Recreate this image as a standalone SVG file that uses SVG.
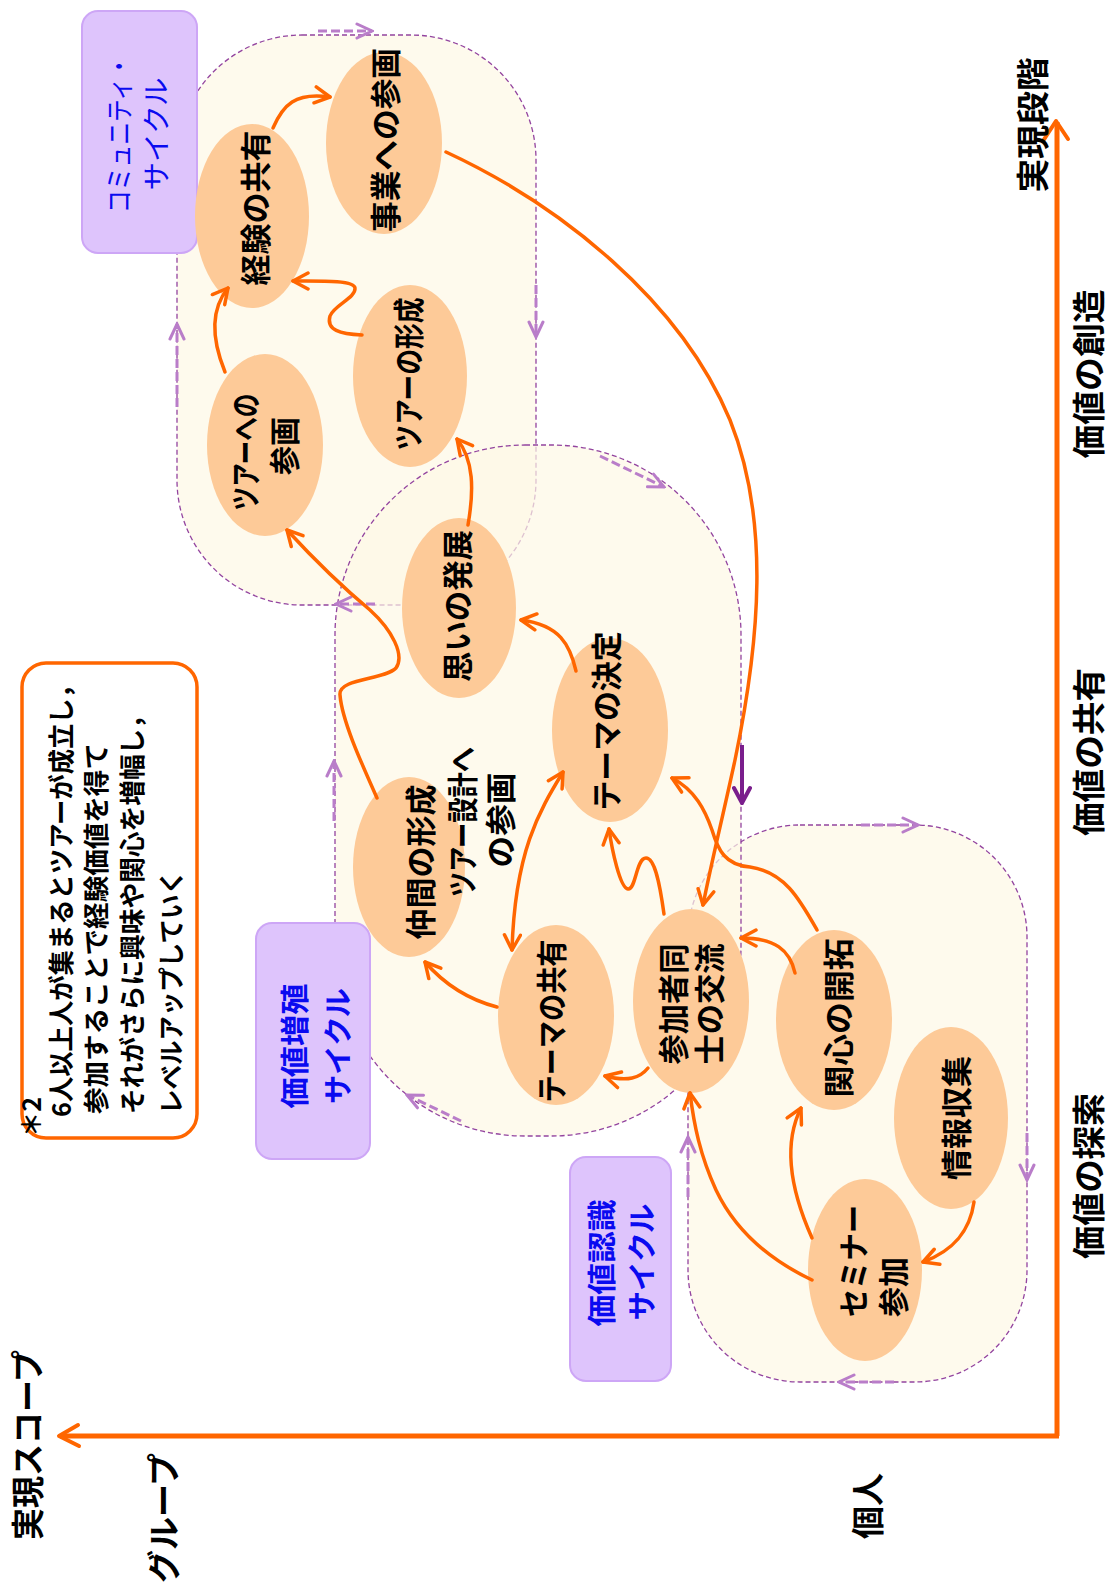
<svg xmlns="http://www.w3.org/2000/svg" width="1112" height="1587" viewBox="0 0 1112 1587">
<defs>
<style>
.t{font-family:"Noto Sans CJK JP","Noto Sans",sans-serif;font-weight:bold;fill:#000}
.n{font-size:31px}
.ax{font-size:33px}
.lb{font-size:29px;fill:#0A0AF0}
.nt{font-family:"Noto Sans CJK JP","Noto Sans",sans-serif;font-size:26px;font-weight:bold;fill:#000}
.node{fill:#FDCA98}
.region{fill:#FEF8E6;fill-opacity:0.7;stroke:#93449F;stroke-width:1.3;stroke-dasharray:5 3}
.cyc{fill:none;stroke:#B97DC9;stroke-width:3;stroke-dasharray:9 4;marker-end:url(#pm)}
.conn{fill:none;stroke:#FF6600;stroke-width:3.5;stroke-linecap:round;marker-end:url(#om)}
.box{fill:#DEC4FC;stroke:#CDA6F6;stroke-width:2}
</style>
<marker id="om" viewBox="0 0 20 20" refX="18" refY="10" markerWidth="20" markerHeight="20" markerUnits="userSpaceOnUse" orient="auto-start-reverse">
<path d="M3,2 L18,10 L3,18" fill="none" stroke="#FF6600" stroke-width="3.5" stroke-linecap="round" stroke-linejoin="round"/>
</marker>
<marker id="pm" viewBox="0 0 20 20" refX="18" refY="10" markerWidth="20" markerHeight="20" markerUnits="userSpaceOnUse" orient="auto">
<path d="M3,3 L18,10 L3,17" fill="none" stroke="#B97DC9" stroke-width="3" stroke-linecap="round"/>
</marker>
<marker id="dm" viewBox="0 0 20 20" refX="18" refY="10" markerWidth="20" markerHeight="20" markerUnits="userSpaceOnUse" orient="auto">
<path d="M3,2 L18,10 L3,18" fill="none" stroke="#7A1E8C" stroke-width="4" stroke-linecap="round"/>
</marker>
</defs>
<rect width="1112" height="1587" fill="#FFFFFF"/>

<!-- cycle regions -->
<g id="regions">
<rect id="region-community" class="region" x="177" y="35" width="359" height="570" rx="125" ry="125"/>
<rect id="region-recognition" class="region" x="688" y="825" width="339" height="557" rx="112" ry="112"/>
<rect id="region-multiplication" class="region" x="335" y="445" width="406" height="691" rx="190" ry="190"/>
</g>

<g id="cycle-arrows">
<path class="cyc" d="M318,31 L372,31"/>
<path class="cyc" d="M536,285 L536,337"/>
<path class="cyc" d="M375,604 L336,604"/>
<path class="cyc" d="M177,407 L177,324"/>
<path class="cyc" d="M600,456 L664,487"/>
<path class="cyc" d="M334,821 L334,761"/>
<path class="cyc" d="M461,1121 L407,1095"/>
<path d="M742,745 L742,803" fill="none" stroke="#7A1E8C" stroke-width="4" marker-end="url(#dm)"/>
<path class="cyc" d="M861,825 L918,825"/>
<path class="cyc" d="M1027,1133 L1027,1180"/>
<path class="cyc" d="M894,1382 L839,1382"/>
<path class="cyc" d="M688,1197 L688,1137"/>
</g>

<!-- axes -->
<g id="axes">
<path d="M1057,1436 L1057,122" fill="none" stroke="#FF6600" stroke-width="5"/>
<path d="M1043,141 L1056,121 L1068,139" fill="none" stroke="#FF6600" stroke-width="4" stroke-linecap="round" stroke-linejoin="round"/>
<path d="M1059,1436 L60,1436" fill="none" stroke="#FF6600" stroke-width="5"/>
<path d="M78,1425 L59,1436 L79,1446" fill="none" stroke="#FF6600" stroke-width="4" stroke-linecap="round" stroke-linejoin="round"/>
<text class="t ax" transform="translate(1031,125) rotate(-90)" text-anchor="middle" dominant-baseline="central" textLength="135" lengthAdjust="spacingAndGlyphs">実現段階</text>
<text class="t ax" transform="translate(1087,374) rotate(-90)" text-anchor="middle" dominant-baseline="central" textLength="169" lengthAdjust="spacingAndGlyphs">価値の創造</text>
<text class="t ax" transform="translate(1087,752) rotate(-90)" text-anchor="middle" dominant-baseline="central" textLength="168" lengthAdjust="spacingAndGlyphs">価値の共有</text>
<text class="t ax" transform="translate(1087,1176) rotate(-90)" text-anchor="middle" dominant-baseline="central" textLength="166" lengthAdjust="spacingAndGlyphs">価値の探索</text>
<text class="t ax" transform="translate(26,1445) rotate(-90)" text-anchor="middle" dominant-baseline="central" textLength="190" lengthAdjust="spacingAndGlyphs">実現スコープ</text>
<text class="t ax" transform="translate(162,1518) rotate(-90)" text-anchor="middle" dominant-baseline="central" textLength="130" lengthAdjust="spacingAndGlyphs">グループ</text>
<text class="t ax" transform="translate(866,1506) rotate(-90)" text-anchor="middle" dominant-baseline="central">個人</text>
</g>

<!-- cycle labels -->
<g id="label-community">
<rect class="box" x="82" y="11" width="115" height="242" rx="16"/>
<text class="t lb" style="font-size:28px;font-weight:normal" transform="translate(118,134) rotate(-90)" text-anchor="middle" dominant-baseline="central" textLength="158" lengthAdjust="spacingAndGlyphs">コミュニティ・</text>
<text class="t lb" style="font-size:28px;font-weight:normal" transform="translate(155,134) rotate(-90)" text-anchor="middle" dominant-baseline="central" textLength="113" lengthAdjust="spacingAndGlyphs">サイクル</text>
</g>
<g id="label-multiplication">
<rect class="box" x="256" y="923" width="114" height="236" rx="16"/>
<text class="t lb" transform="translate(293,1046) rotate(-90)" text-anchor="middle" dominant-baseline="central" textLength="125" lengthAdjust="spacingAndGlyphs">価値増殖</text>
<text class="t lb" transform="translate(336,1046) rotate(-90)" text-anchor="middle" dominant-baseline="central" textLength="116" lengthAdjust="spacingAndGlyphs">サイクル</text>
</g>
<g id="label-recognition">
<rect class="box" x="570" y="1157" width="101" height="224" rx="16"/>
<text class="t lb" transform="translate(600,1263) rotate(-90)" text-anchor="middle" dominant-baseline="central" textLength="127" lengthAdjust="spacingAndGlyphs">価値認識</text>
<text class="t lb" transform="translate(640,1262) rotate(-90)" text-anchor="middle" dominant-baseline="central" textLength="117" lengthAdjust="spacingAndGlyphs">サイクル</text>
</g>

<!-- note -->
<g id="note">
<rect x="22" y="663" width="175" height="475" rx="24" fill="#FFFFFF" stroke="#FF6600" stroke-width="3.5"/>
<text class="nt" transform="translate(29,1137) rotate(-90)" dominant-baseline="central" textLength="40" lengthAdjust="spacingAndGlyphs">＊2</text>
<text class="nt" transform="translate(59,1117) rotate(-90)" dominant-baseline="central" textLength="444" lengthAdjust="spacingAndGlyphs">6人以上人が集まるとツアーが成立し，</text>
<text class="nt" transform="translate(94,1114) rotate(-90)" dominant-baseline="central" textLength="371" lengthAdjust="spacingAndGlyphs">参加することで経験価値を得て</text>
<text class="nt" transform="translate(130,1114) rotate(-90)" dominant-baseline="central" textLength="411" lengthAdjust="spacingAndGlyphs">それがさらに興味や関心を増幅し，</text>
<text class="nt" transform="translate(169,1114) rotate(-90)" dominant-baseline="central" textLength="244" lengthAdjust="spacingAndGlyphs">レベルアップしていく</text>
</g>

<!-- nodes -->
<g id="node-jigyou">
<ellipse class="node" cx="384" cy="143" rx="58" ry="91"/>
<text class="t n" transform="translate(383,140) rotate(-90)" text-anchor="middle" dominant-baseline="central" textLength="184" lengthAdjust="spacingAndGlyphs">事業への参画</text>
</g>
<g id="node-keiken">
<ellipse class="node" cx="252" cy="216" rx="57" ry="92"/>
<text class="t n" transform="translate(253,208) rotate(-90)" text-anchor="middle" dominant-baseline="central" textLength="155" lengthAdjust="spacingAndGlyphs">経験の共有</text>
</g>
<g id="node-tour-keisei">
<ellipse class="node" cx="410" cy="376" rx="57" ry="91"/>
<text class="t n" transform="translate(406,374) rotate(-90)" text-anchor="middle" dominant-baseline="central" textLength="153" lengthAdjust="spacingAndGlyphs">ツアーの形成</text>
</g>
<g id="node-tour-sankaku">
<ellipse class="node" cx="265" cy="445" rx="58" ry="91"/>
<text class="t n" transform="translate(243,452) rotate(-90)" text-anchor="middle" dominant-baseline="central" textLength="117" lengthAdjust="spacingAndGlyphs">ツアーへの</text>
<text class="t n" transform="translate(282,446) rotate(-90)" text-anchor="middle" dominant-baseline="central" textLength="58" lengthAdjust="spacingAndGlyphs">参画</text>
</g>
<g id="node-omoi">
<ellipse class="node" cx="459" cy="608" rx="57" ry="90"/>
<text class="t n" transform="translate(455,606) rotate(-90)" text-anchor="middle" dominant-baseline="central" textLength="152" lengthAdjust="spacingAndGlyphs">思いの発展</text>
</g>
<g id="node-theme-kettei">
<ellipse class="node" cx="610" cy="730" rx="58" ry="92"/>
<text class="t n" transform="translate(604,721) rotate(-90)" text-anchor="middle" dominant-baseline="central" textLength="179" lengthAdjust="spacingAndGlyphs">テーマの決定</text>
</g>
<g id="node-nakama">
<ellipse class="node" cx="409" cy="867" rx="56" ry="90"/>
<text class="t n" transform="translate(418,862) rotate(-90)" text-anchor="middle" dominant-baseline="central" textLength="155" lengthAdjust="spacingAndGlyphs">仲間の形成</text>
</g>
<g id="node-tour-sekkei">
<text class="t n" transform="translate(460,822) rotate(-90)" text-anchor="middle" dominant-baseline="central" textLength="150" lengthAdjust="spacingAndGlyphs">ツアー設計へ</text>
<text class="t n" transform="translate(498,820) rotate(-90)" text-anchor="middle" dominant-baseline="central" textLength="95" lengthAdjust="spacingAndGlyphs">の参画</text>
</g>
<g id="node-theme-kyouyuu">
<ellipse class="node" cx="556" cy="1015" rx="58" ry="90"/>
<text class="t n" transform="translate(549,1021) rotate(-90)" text-anchor="middle" dominant-baseline="central" textLength="163" lengthAdjust="spacingAndGlyphs">テーマの共有</text>
</g>
<g id="node-kouryuu">
<ellipse class="node" cx="691" cy="1001" rx="58" ry="92"/>
<text class="t n" transform="translate(671,1004) rotate(-90)" text-anchor="middle" dominant-baseline="central" textLength="121" lengthAdjust="spacingAndGlyphs">参加者同</text>
<text class="t n" transform="translate(707,1004) rotate(-90)" text-anchor="middle" dominant-baseline="central" textLength="121" lengthAdjust="spacingAndGlyphs">士の交流</text>
</g>
<g id="node-kanshin">
<ellipse class="node" cx="834" cy="1020" rx="58" ry="90"/>
<text class="t n" transform="translate(836,1018) rotate(-90)" text-anchor="middle" dominant-baseline="central" textLength="159" lengthAdjust="spacingAndGlyphs">関心の開拓</text>
</g>
<g id="node-jouhou">
<ellipse class="node" cx="951" cy="1118" rx="57" ry="91"/>
<text class="t n" transform="translate(954,1118) rotate(-90)" text-anchor="middle" dominant-baseline="central" textLength="124" lengthAdjust="spacingAndGlyphs">情報収集</text>
</g>
<g id="node-seminar">
<ellipse class="node" cx="865" cy="1270" rx="57" ry="91"/>
<text class="t n" transform="translate(851,1317) rotate(-90)" dominant-baseline="central" textLength="112" lengthAdjust="spacingAndGlyphs">セミナー</text>
<text class="t n" transform="translate(891,1317) rotate(-90)" dominant-baseline="central" textLength="60" lengthAdjust="spacingAndGlyphs">参加</text>
</g>

<!-- connectors -->
<g id="connectors">
<path class="conn" d="M273,128 C283,105 295,92 330,97"/>
<path class="conn" d="M446,152 C560,205 680,300 730,420 C770,520 760,640 735,760 C722,820 712,860 703,905"/>
<path class="conn" d="M225,372 C212,340 210,310 228,288"/>
<path class="conn" d="M362,335 C340,334 326,330 330,316 C334,305 356,298 355,288 C354,280 320,281 293,281"/>
<path class="conn" d="M468,525 C474,490 474,460 457,439"/>
<path class="conn" d="M377,798 C360,760 342,720 340,695 C338,678 385,680 396,668 C405,655 392,630 370,610 C340,585 310,555 287,530"/>
<path class="conn" d="M576,671 C570,645 560,625 521,620"/>
<path class="conn" marker-start="url(#om)" d="M512,950 C515,850 540,810 563,772"/>
<path class="conn" d="M497,1007 C470,1000 445,985 425,962"/>
<path class="conn" d="M664,914 C660,885 655,858 646,858 C636,858 636,890 628,889 C620,888 612,850 609,829"/>
<path class="conn" d="M817,930 C800,900 785,872 750,867 C725,865 718,850 712,830 C705,810 695,790 672,778"/>
<path class="conn" d="M795,973 C790,950 775,938 741,938"/>
<path class="conn" d="M648,1068 C640,1078 628,1082 605,1076"/>
<path class="conn" d="M812,1280 C770,1260 735,1230 716,1190 C700,1155 694,1125 690,1093"/>
<path class="conn" d="M812,1238 C795,1200 780,1150 801,1108"/>
<path class="conn" d="M974,1202 C970,1230 955,1250 923,1262"/>
</g>
</svg>
